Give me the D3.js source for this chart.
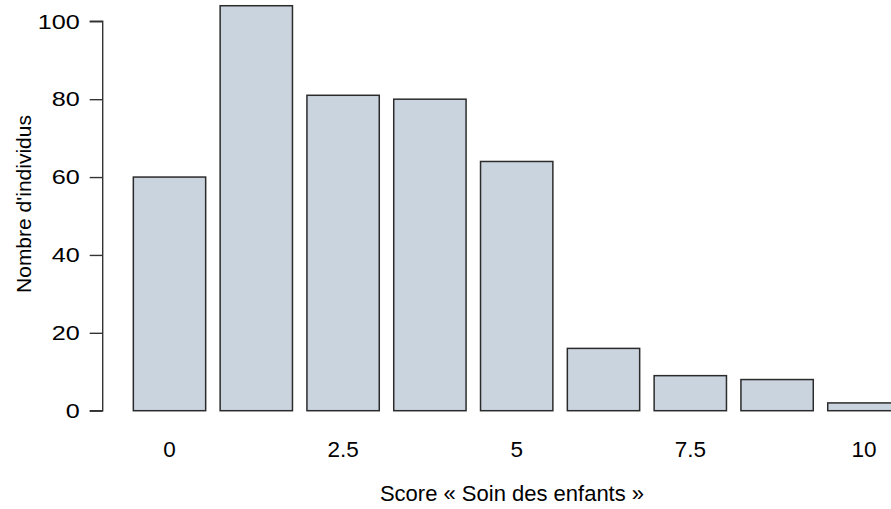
<!DOCTYPE html>
<html>
<head>
<meta charset="utf-8">
<script src="https://cdn.jsdelivr.net/npm/d3@7"></script>
<style>
  html, body { margin: 0; padding: 0; background: #ffffff; }
  svg { display: block; }
  text { font-family: "Liberation Sans", Arial, sans-serif; fill: #000; }
</style>
</head>
<body>
<script>
// ---- data ----
const categories = [0, 1.25, 2.5, 3.75, 5, 6.25, 7.5, 8.75, 10];
const counts = [60, 104, 81, 80, 64, 16, 9, 8, 2];
const xTickValues = [0, 2.5, 5, 7.5, 10];
const xTickLabels = ["0", "2.5", "5", "7.5", "10"];
const yTickValues = [0, 20, 40, 60, 80, 100];
const xTitle = "Score « Soin des enfants »";
const yTitle = "Nombre d'individus";

const W = 891, H = 509;
const svg = d3.select("body").append("svg").attr("width", W).attr("height", H);

const x = d3.scaleBand()
  .domain(categories)
  .range([126.1, 907.3])
  .paddingInner(1 / 6)
  .paddingOuter(1 / 12);

const y = d3.scaleLinear().domain([0, 100]).range([410.7, 21.3]);

// bars
svg.append("g").selectAll("rect")
  .data(categories.map((c, i) => ({ c, v: counts[i] })))
  .join("rect")
  .attr("x", d => x(d.c))
  .attr("y", d => y(d.v))
  .attr("width", x.bandwidth())
  .attr("height", d => y(0) - y(d.v))
  .attr("fill", "#cad4df")
  .attr("stroke", "#2b2b2b")
  .attr("stroke-width", 1.5);

// y axis
const yAxis = d3.axisLeft(y).tickValues(yTickValues).tickSize(13).tickPadding(0).tickFormat(d3.format("d"));
const gy = svg.append("g").attr("transform", "translate(102.7,0)").call(yAxis);
gy.select(".domain").attr("stroke", "#333").attr("stroke-width", 1.4).attr("d", `M-13,${y(0)}H0V${y(100)}H-13`);
gy.selectAll(".tick line").attr("stroke", "#333").attr("stroke-width", 1.4);
gy.selectAll(".tick text")
  .attr("x", null)
  .attr("transform", "translate(-23,0) scale(1.2,1)")
  .style("font-size", "21px")
  .style("font-family", "Liberation Sans, Arial, sans-serif")
  .attr("fill", "#000");

// x tick labels (no axis line)
const gx = svg.append("g");
gx.selectAll("text")
  .data(xTickValues)
  .join("text")
  .attr("x", d => x(d) + x.bandwidth() / 2)
  .attr("y", 457)
  .attr("text-anchor", "middle")
  .style("font-size", "22.5px")
  .text((d, i) => xTickLabels[i]);

// titles
svg.append("text")
  .attr("x", 512)
  .attr("y", 501)
  .attr("text-anchor", "middle")
  .style("font-size", "22px")
  .text(xTitle);

svg.append("text")
  .attr("transform", "translate(31,204) rotate(-90)")
  .attr("text-anchor", "middle")
  .style("font-size", "21px")
  .text(yTitle);
</script>
</body>
</html>
